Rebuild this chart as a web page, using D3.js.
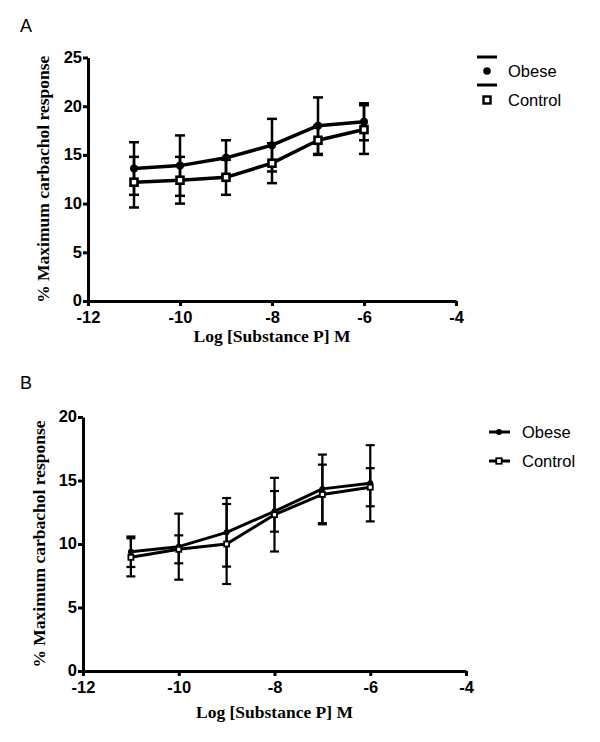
<!DOCTYPE html>
<html><head><meta charset="utf-8">
<script src="https://cdn.jsdelivr.net/npm/d3@7"></script>
<style>body{margin:0;background:#fff}svg{display:block}</style>
</head><body>
<svg id="c" width="600" height="742"></svg>
<script>
// ---- data ----
const logConc = [-11, -10, -9, -8, -7, -6];
const xTicks = [-12, -10, -8, -6, -4];
// Panel A
const aObese = [13.6, 13.9, 14.7, 16.0, 18.0, 18.4];
const aObeseErr = [2.7, 3.1, 1.8, 2.7, 2.9, 1.9];
const aControl = [12.2, 12.4, 12.7, 14.15, 16.5, 17.6];
const aControlErr = [2.6, 2.4, 1.8, 2.05, 1.5, 2.5];
const aYTicks = [0, 5, 10, 15, 20, 25];
// Panel B
const bObese = [9.39, 9.79, 10.92, 12.57, 14.34, 14.78];
const bObeseErr = [1.2, 2.6, 2.7, 1.6, 2.7, 3.0];
const bControl = [8.95, 9.58, 10.0, 12.31, 13.9, 14.47];
const bControlErr = [1.5, 1.1, 3.15, 2.9, 2.35, 1.5];
const bYTicks = [0, 5, 10, 15, 20];
const seriesNames = ["Obese", "Control"];
const panelLabels = ["A", "B"];
const xTitle = "Log [Substance P] M";
const yTitle = "% Maximum carbachol response";

const svg = d3.select("#c");

function panel(cfg) {
  const g = svg.append("g");
  const x = d3.scaleLinear().domain([-12, -4]).range([cfg.x0, cfg.x1]);
  const y = d3.scaleLinear().domain([0, cfg.ymax]).range([cfg.y0, cfg.y1]);

  g.append("text").attr("x", 20).attr("y", cfg.letterY)
    .attr("font-family", "Liberation Sans, Arial, sans-serif").attr("font-size", 18)
    .text(cfg.letter);

  const ya = g.append("g").attr("transform", `translate(${cfg.x0},0)`)
    .call(d3.axisLeft(y).tickValues(cfg.yTicks).tickSize(5).tickSizeOuter(0).tickPadding(1));
  const xa = g.append("g").attr("transform", `translate(0,${cfg.y0})`)
    .call(d3.axisBottom(x).tickValues(xTicks).tickSize(5).tickSizeOuter(0).tickPadding(5).tickFormat(d3.format("d")));
  [ya, xa].forEach(a => {
    a.select(".domain").attr("stroke", "#000").attr("stroke-width", 3);
    a.selectAll(".tick line").attr("stroke", "#000").attr("stroke-width", 3);
    a.selectAll(".tick text").attr("fill", "#000")
      .attr("font-family", "Liberation Sans, Arial, sans-serif")
      .attr("font-weight", "bold").attr("font-size", 16.5);
  });
  ya.selectAll(".tick text").attr("dy", "0.3em");
  xa.selectAll(".tick text").text(d => d < 0 ? "-" + Math.abs(d) : d);

  g.append("text").attr("x", (cfg.x0 + cfg.x1) / 2).attr("y", cfg.xTitleY)
    .attr("text-anchor", "middle")
    .attr("font-family", "Liberation Serif, Times New Roman, serif")
    .attr("font-weight", "bold").attr("font-size", 17.5).text(xTitle);
  g.append("text")
    .attr("transform", `translate(${cfg.yTitleX},${(cfg.y0 + cfg.y1) / 2}) rotate(-90)`)
    .attr("text-anchor", "middle")
    .attr("font-family", "Liberation Serif, Times New Roman, serif")
    .attr("font-weight", "bold").attr("font-size", 17.5).text(yTitle);

  const series = [
    {name: seriesNames[0], v: cfg.obese, e: cfg.obeseErr, marker: "dot"},
    {name: seriesNames[1], v: cfg.control, e: cfg.controlErr, marker: "square"}
  ];
  const line = d3.line().x((d, i) => x(logConc[i])).y(d => y(d));

  series.forEach(s => {
    const eg = g.append("g");
    s.v.forEach((v, i) => {
      const cx = x(logConc[i]);
      const top = y(v + s.e[i]), bot = y(v - s.e[i]);
      eg.append("line").attr("x1", cx).attr("x2", cx).attr("y1", top).attr("y2", bot)
        .attr("stroke", "#000").attr("stroke-width", cfg.ebw);
      [top, bot].forEach(yy => eg.append("line")
        .attr("x1", cx - cfg.cap).attr("x2", cx + cfg.cap).attr("y1", yy).attr("y2", yy)
        .attr("stroke", "#000").attr("stroke-width", cfg.ebw));
    });
  });
  series.forEach(s => {
    g.append("path").datum(s.v).attr("d", line).attr("fill", "none")
      .attr("stroke", "#000").attr("stroke-width", cfg.lw).attr("stroke-linejoin", "round");
  });
  series.forEach(s => {
    s.v.forEach((v, i) => drawMarker(g, s.marker, x(logConc[i]), y(v), cfg.ms, cfg.msw, cfg.r));
  });

  const lg = g.append("g");
  series.forEach((s, i) => {
    const ly = cfg.legY + i * cfg.legDy;
    if (cfg.legStyle === "A") {
      if (i === 0) {
        [-14, 14].forEach(dy => lg.append("line").attr("x1", cfg.legX - 10).attr("x2", cfg.legX + 10)
          .attr("y1", ly + dy).attr("y2", ly + dy).attr("stroke", "#000").attr("stroke-width", 3));
      }
    } else {
      lg.append("line").attr("x1", cfg.legX - 10).attr("x2", cfg.legX + 11)
        .attr("y1", ly).attr("y2", ly).attr("stroke", "#000").attr("stroke-width", 3);
    }
    drawMarker(lg, s.marker, cfg.legX, ly, cfg.legMs, cfg.legMsw, cfg.legR);
    lg.append("text").attr("x", cfg.legTextX).attr("y", ly).attr("dy", "0.35em")
      .attr("font-family", "Liberation Sans, Arial, sans-serif").attr("font-size", 16.5)
      .text(s.name);
  });
}

function drawMarker(g, type, cx, cy, s, sw, r) {
  if (type === "dot") {
    g.append("circle").attr("cx", cx).attr("cy", cy).attr("r", r).attr("fill", "#000");
  } else {
    g.append("rect").attr("x", cx - s / 2).attr("y", cy - s / 2).attr("width", s).attr("height", s)
      .attr("fill", "#fff").attr("stroke", "#000").attr("stroke-width", sw);
  }
}

panel({letter: panelLabels[0], letterY: 32, x0: 88, x1: 456, y0: 301, y1: 57.5, ymax: 25, yTicks: aYTicks,
  obese: aObese, obeseErr: aObeseErr, control: aControl, controlErr: aControlErr,
  xTitleY: 342, yTitleX: 49, lw: 3.5, ebw: 2.5, cap: 5, ms: 7, msw: 2.6, r: 4,
  legStyle: "A", legX: 487, legY: 71, legDy: 29, legTextX: 508, legMs: 7, legMsw: 2.4, legR: 3.8});
panel({letter: panelLabels[1], letterY: 389, x0: 83, x1: 466, y0: 671, y1: 417, ymax: 20, yTicks: bYTicks,
  obese: bObese, obeseErr: bObeseErr, control: bControl, controlErr: bControlErr,
  xTitleY: 718, yTitleX: 45, lw: 3, ebw: 2.2, cap: 4.5, ms: 5, msw: 1.8, r: 3,
  legStyle: "B", legX: 499, legY: 432, legDy: 29, legTextX: 522, legMs: 5.5, legMsw: 1.8, legR: 3});
</script>
</body></html>
